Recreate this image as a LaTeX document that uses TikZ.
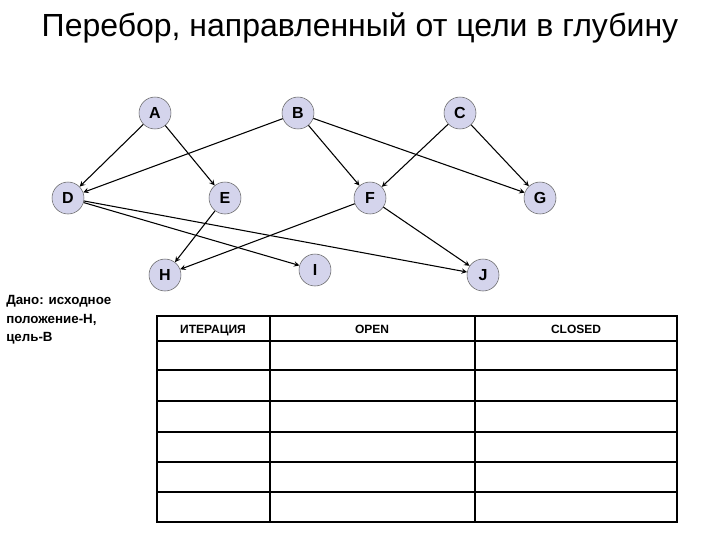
\documentclass[tikz,border=0pt]{standalone}
\usepackage{fontspec}
\setmainfont{Liberation Sans}
\begin{document}
\begin{tikzpicture}[x=0.75pt,y=-0.75pt,
  vtx/.style={circle,draw=gray!80!black,fill={rgb,255:red,212;green,212;blue,236},minimum size=24pt,inner sep=0pt,font=\bfseries\large},
  edge/.style={-stealth,line width=0.8pt},
  tbl/.style={line width=1pt},
  hdr/.style={font=\bfseries\small,anchor=base}]
\useasboundingbox (0,0) rectangle (720,540);
\node (title) at (360,28) {\fontsize{24}{28}\selectfont Перебор, направленный от цели в глубину};
\node[vtx] (A) at (155,113) {A};
\node[vtx] (B) at (298,113) {B};
\node[vtx] (C) at (460,113) {C};
\node[vtx] (D) at (68,198) {D};
\node[vtx] (E) at (225,198) {E};
\node[vtx] (F) at (370,198) {F};
\node[vtx] (G) at (540,198) {G};
\node[vtx] (H) at (165,275) {H};
\node[vtx] (I) at (315,270) {I};
\node[vtx] (J) at (483,275) {J};
\foreach \a/\b in {A/D,A/E,B/D,B/F,B/G,C/F,C/G,D/I,D/J,E/H,F/H,F/J}
  \draw[edge] (\a) -- (\b);
\node[align=left,anchor=north west,font=\bfseries\fontsize{10}{14}\selectfont,inner sep=0pt] (given) at (6,295) {Дано: исходное\\положение-Н,\\цель-В};
\draw[tbl] (157,316) rectangle (677,522);
\foreach \y in {341,370,401,432,462,492} \draw[line width=0.8pt] (157,\y) -- (677,\y);
\foreach \x in {270,475} \draw[line width=0.8pt] (\x,316) -- (\x,522);
\node[hdr] (h1) at (213,333) {ИТЕРАЦИЯ};
\node[hdr] (h2) at (372,333) {OPEN};
\node[hdr] (h3) at (576,333) {CLOSED};
\end{tikzpicture}
\end{document}
